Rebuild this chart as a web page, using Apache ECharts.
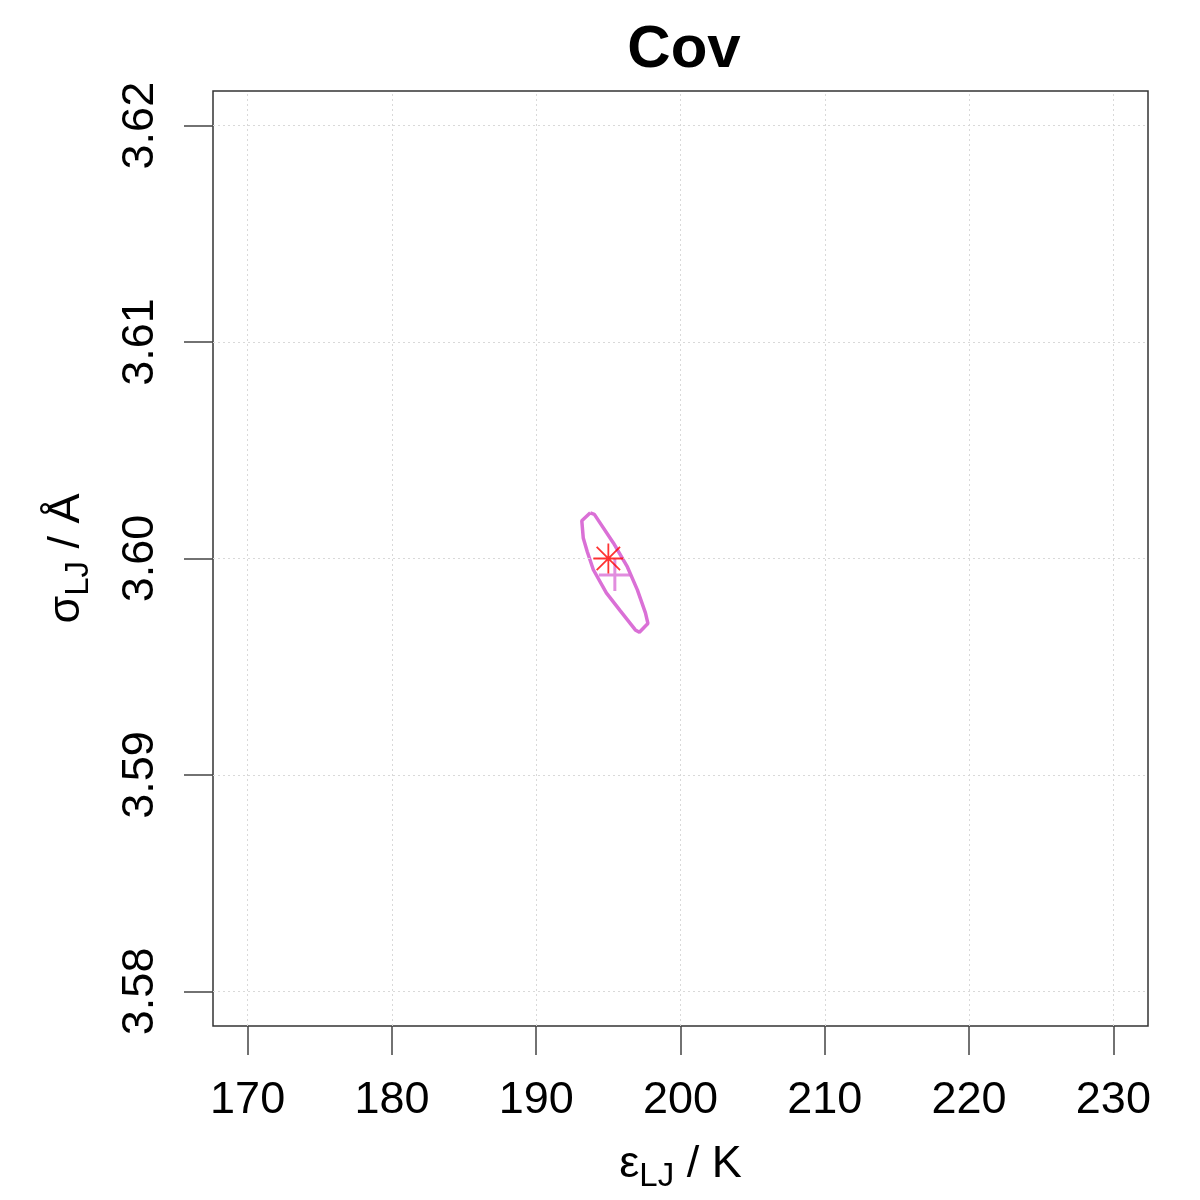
<!DOCTYPE html>
<html>
<head>
<meta charset="utf-8">
<title>Cov</title>
<script src="https://cdn.jsdelivr.net/npm/echarts@6/dist/echarts.min.js"></script>
<style>
  html, body { margin: 0; padding: 0; background: #fff; }
  #chart { width: 1200px; height: 1200px; }
</style>
</head>
<body>
<div id="chart"></div>
<script>
// tick positions
const xTicks = [170, 180, 190, 200, 210, 220, 230];
const yTicks = [3.58, 3.59, 3.60, 3.61, 3.62];

// confidence ellipse outline (closed)
const ellipseX = [193.75, 194.03, 195.35, 196.32, 197.01, 197.57, 197.74, 197.15,
  196.87, 195.83, 194.86, 193.96, 193.54, 193.26, 193.16, 193.75];
const ellipseY = [3.60211, 3.60204, 3.60072, 3.59961, 3.59855, 3.59749, 3.59700, 3.59659,
  3.59670, 3.59758, 3.59841, 3.59948, 3.60031, 3.60095, 3.60174, 3.60211];

// reference value (red asterisk) and estimate (purple cross)
const refPoint = [195.0, 3.600];
const estPoint = [195.45, 3.59924];

const chart = echarts.init(document.getElementById('chart'));
const font = 'Liberation Sans, Arial, sans-serif';
const ellipseData = ellipseX.map((x, i) => [x, ellipseY[i]]);

const gridLines = xTicks.map(v => ({ xAxis: v })).concat(yTicks.map(v => ({ yAxis: v })));

chart.setOption({
  backgroundColor: '#fff',
  animation: false,
  title: {
    text: 'Cov',
    left: 679,
    top: 15,
    textAlign: 'center',
    textStyle: { fontFamily: font, fontWeight: 'bold', fontSize: 60, color: '#000' }
  },
  grid: {
    left: 213, right: 52, top: 91, bottom: 174,
    show: true, borderColor: '#333', borderWidth: 1.5, backgroundColor: 'transparent'
  },
  xAxis: {
    type: 'value',
    min: 167.6,
    max: 232.4,
    splitLine: { show: false },
    axisLine: { show: false },
    axisTick: { show: true, customValues: xTicks, length: 29, inside: false, lineStyle: { color: '#444', width: 1.5 } },
    axisLabel: {
      customValues: xTicks, margin: 52, fontSize: 45, fontFamily: font, color: '#000',
      formatter: v => String(v)
    },
    name: '{a|ε}{s|LJ}{a| / K}',
    nameLocation: 'middle',
    nameGap: 111,
    nameTextStyle: {
      rich: {
        a: { fontSize: 45, fontFamily: font, color: '#000', lineHeight: 56 },
        s: { fontSize: 33, fontFamily: font, color: '#000', lineHeight: 38, verticalAlign: 'bottom' }
      }
    }
  },
  yAxis: {
    type: 'value',
    min: 3.5784,
    max: 3.6216,
    splitLine: { show: false },
    axisLine: { show: false },
    axisTick: { show: true, customValues: yTicks, length: 29, inside: false, lineStyle: { color: '#444', width: 1.5 } },
    axisLabel: {
      customValues: yTicks, rotate: 90, margin: 50, fontSize: 45, fontFamily: font, color: '#000',
      formatter: v => v.toFixed(2)
    },
    name: '{a|σ}{s|LJ}{a| / Å}',
    nameLocation: 'middle',
    nameGap: 118,
    nameTextStyle: {
      rich: {
        a: { fontSize: 45, fontFamily: font, color: '#000', lineHeight: 56 },
        s: { fontSize: 33, fontFamily: font, color: '#000', lineHeight: 38, verticalAlign: 'bottom' }
      }
    }
  },
  series: [
    {
      type: 'line',
      data: [],
      z: 1,
      silent: true,
      markLine: {
        silent: true,
        symbol: 'none',
        label: { show: false },
        lineStyle: { color: '#d9d9d9', type: [2, 3], width: 1 },
        data: gridLines
      }
    },
    {
      type: 'line',
      data: ellipseData,
      z: 3,
      showSymbol: false,
      smooth: false,
      lineStyle: { color: '#DA70D6', width: 3.5 }
    },
    {
      type: 'scatter',
      data: [estPoint],
      z: 4,
      symbol: 'path://M0,-1L0,1M-1,0L1,0',
      symbolSize: 32,
      itemStyle: { color: 'none', borderColor: '#DA70D6', borderWidth: 3 }
    },
    {
      type: 'scatter',
      data: [refPoint],
      z: 5,
      symbol: 'path://M0,-1L0,1M-1,0L1,0M-0.78,-0.78L0.78,0.78M-0.78,0.78L0.78,-0.78',
      symbolSize: 30,
      itemStyle: { color: 'none', borderColor: '#ff0000', borderWidth: 1.8 }
    }
  ]
});
</script>
</body>
</html>
